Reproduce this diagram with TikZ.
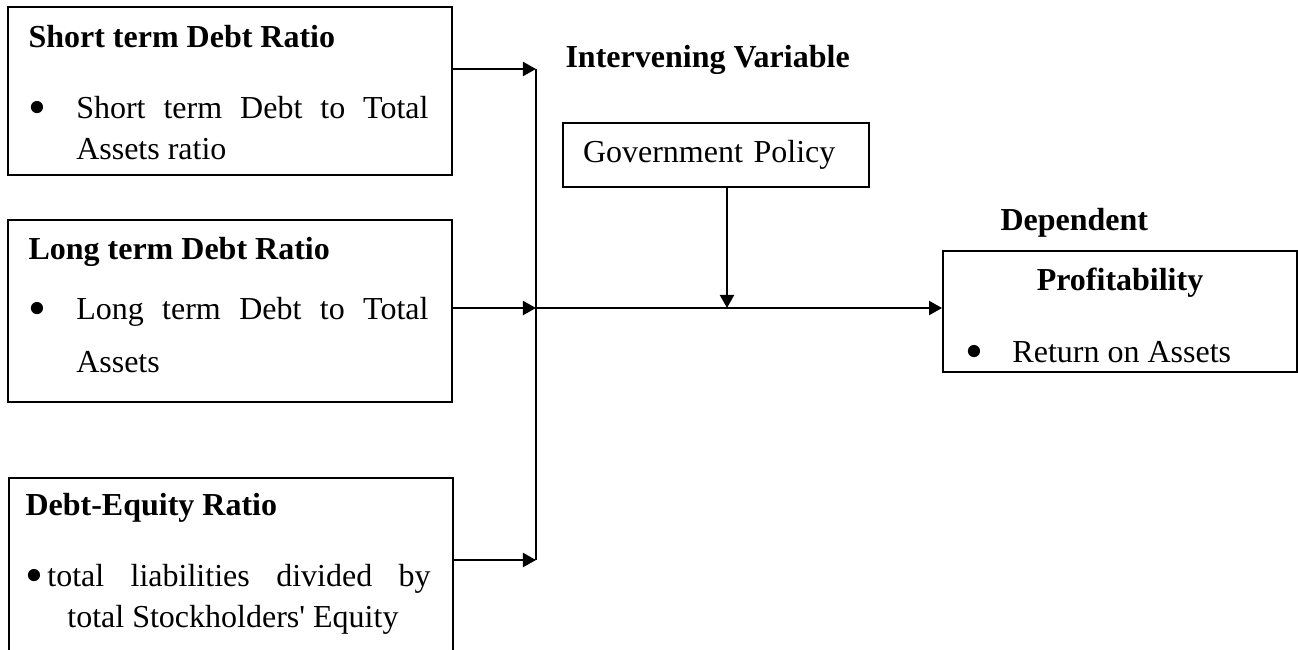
\documentclass[tikz,border=0pt]{standalone}
\usepackage{fontspec}
\setmainfont{Liberation Serif}
\usetikzlibrary{arrows.meta,positioning}

% bullet item: bullet box width, hanging indent, text
\newcommand{\bigbullet}{\raisebox{-2.4pt}{\scalebox{1.6}{\textbullet}}}
\newcommand{\bitem}[3]{\hangindent=#2\hangafter=1\noindent\hbox to #1{\bigbullet\hfil}#3\par}

\begin{document}
\begin{tikzpicture}[
    x=0.375pt, y=-0.375pt,
    font=\fontsize{12}{15.4}\selectfont,
    box/.style={rectangle, draw, line width=0.7pt, minimum width=166.5pt, inner sep=0pt},
    title/.style={font=\fontsize{12}{15.4}\selectfont\bfseries, anchor=base west, inner sep=0pt},
    item/.style={anchor=base west, inner sep=0pt, text width=150pt, align=justify},
    arrow/.style={-{Triangle[length=4.9pt,width=5.2pt]}, line width=1pt},
    bus/.style={line width=0.7pt}
]
\useasboundingbox (0,0) rectangle (1298,649);

% Independent variables
\node[box, minimum height=63pt] (stbox) at (230,91) {};
\node[title] (sttitle) at (28,47) {Short term Debt Ratio};
\node[item] (stitem) at (28,118) {\bitem{17.9pt}{17.9pt}{Short term Debt to Total\linebreak Assets ratio}};

\node[box, minimum height=68.25pt] (ltbox) at (230,311) {};
\node[title] (lttitle) at (28,259) {Long term Debt Ratio};
\node[item, font=\fontsize{12}{19.9}\selectfont] (ltitem) at (28,319) {\bitem{17.9pt}{17.9pt}{Long term Debt to Total\linebreak Assets}};

\node[box, minimum height=75pt, anchor=north west] (debox) at (8,477) {};
\node[title] (detitle) at (25,515) {Debt-Equity Ratio};
\node[item, text width=151.9pt] (deitem) at (25,586) {\bitem{8.2pt}{15.7pt}{total liabilities divided by\linebreak total Stockholders\textquotesingle\ Equity}};

% Junctions
\coordinate (j1) at (536,69);
\coordinate (j2) at (536,308);
\coordinate (j3) at (536,560);
\coordinate (gpin) at (727,308);

\draw[arrow] (stbox.east |- j1) -- (j1);
\draw[arrow] (ltbox.east |- j2) -- (j2);
\draw[arrow] (debox.east |- j3) -- (j3);
\draw[bus] (j1) -- (j3);

% Intervening variable
\node[title] (ivtitle) at (565,67) {Intervening Variable};
\node[box, minimum width=114.75pt, minimum height=24pt, inner xsep=7.5pt, text width=99.75pt, align=left] (gpbox) at (716,155) {Government Policy};
\draw[arrow] (gpin |- gpbox.south) -- (gpin);

% Dependent variable
\node[title] (dvtitle) at (1000,230) {Dependent};
\node[box, minimum width=132.75pt, minimum height=45.4pt] (prbox) at (1120,311.5) {};
\node[title, anchor=base] (prtitle) at (1120,290) {Profitability};
\node[anchor=base west, inner sep=0pt] (pritem) at (965,362) {\bitem{17.6pt}{17.6pt}{Return on Assets}};

\draw[arrow] (j2) -- (prbox.west |- j2);

\end{tikzpicture}
\end{document}
